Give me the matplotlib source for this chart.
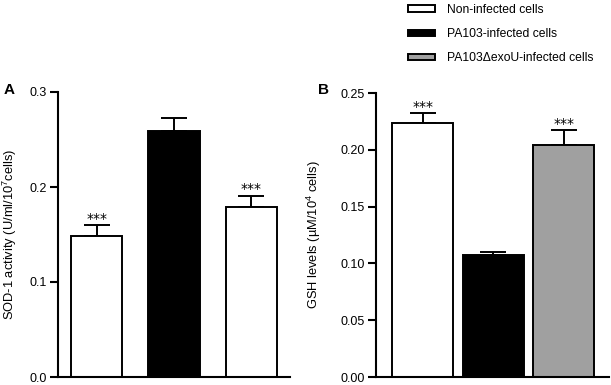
import matplotlib
matplotlib.use("Agg")
import matplotlib.pyplot as plt
from matplotlib.ticker import FormatStrFormatter

plt.rcParams["font.family"] = ["Liberation Sans", "DejaVu Sans"]
plt.rcParams["mathtext.default"] = "regular"

groups = ["Non-infected cells", "PA103-infected cells", "PA103\u0394exoU-infected cells"]

# panel A: SOD-1 activity
sod_mean = [0.148, 0.259, 0.179]
sod_err = [0.012, 0.014, 0.012]
sod_stars = ["***", "", "***"]
sod_colors = ["white", "black", "white"]

# panel B: GSH levels
gsh_mean = [0.224, 0.107, 0.204]
gsh_err = [0.008, 0.003, 0.013]
gsh_stars = ["***", "", "***"]
gsh_colors = ["white", "black", "#a0a0a0"]

W, H = 611, 385
fig = plt.figure(figsize=(W / 100, H / 100), dpi=100)


def px_axes(x0, x1, y_top, y_bot):
    return fig.add_axes([x0 / W, 1 - y_bot / H, (x1 - x0) / W, (y_bot - y_top) / H])


def draw_panel(ax, means, errs, stars, colors, width, xlim, ylim, yticks, fmt, ylabel):
    x = list(range(len(means)))
    bars = ax.bar(x, means, width=width, color=colors, edgecolor="black", linewidth=1.4, zorder=2)
    ax.errorbar(x, means, yerr=[[0] * len(errs), errs], fmt="none", ecolor="black",
                elinewidth=1.4, capsize=9.5, capthick=1.4, zorder=1)
    for xi, m, e, s in zip(x, means, errs, stars):
        if s:
            ax.annotate(s, (xi, m + e), xytext=(0, 1.5), textcoords="offset points",
                        ha="center", va="baseline", fontsize=10, family="DejaVu Sans")
    ax.set_xlim(*xlim)
    ax.set_ylim(*ylim)
    ax.set_yticks(yticks)
    ax.yaxis.set_major_formatter(FormatStrFormatter(fmt))
    ax.set_xticks([])
    for sp in ["top", "right"]:
        ax.spines[sp].set_visible(False)
    for sp in ["left", "bottom"]:
        ax.spines[sp].set_linewidth(1.5)
    ax.tick_params(axis="y", direction="out", length=6, width=1.5, labelsize=9, pad=2)
    ax.set_ylabel(ylabel, fontsize=9.3)
    return bars


axA = px_axes(58, 290, 92, 377)
barsA = draw_panel(axA, sod_mean, sod_err, sod_stars, sod_colors, 0.66, (-0.5, 2.5),
                   (0, 0.3), [0.0, 0.1, 0.2, 0.3], "%.1f",
                   "SOD-1 activity (U/ml/10$^7$cells)")
axA.yaxis.set_label_coords(-0.17, 0.5)

axB = px_axes(376, 609, 93, 377)
barsB = draw_panel(axB, gsh_mean, gsh_err, gsh_stars, gsh_colors, 0.86, (-0.66, 2.64),
                   (0, 0.25), [0.0, 0.05, 0.10, 0.15, 0.20, 0.25], "%.2f",
                   "GSH levels (\u00b5M/10$^4$ cells)")
axB.yaxis.set_label_coords(-0.228, 0.5)

fig.text(4 / W, 1 - 90 / H, "A", fontsize=11, fontweight="bold", ha="left", va="center")
fig.text(318 / W, 1 - 90 / H, "B", fontsize=11, fontweight="bold", ha="left", va="center")

fig.legend(barsB, groups, loc="upper left", bbox_to_anchor=(408 / W, 1 - 4 / H),
           frameon=False, fontsize=8.7, handlelength=2.2, handleheight=0.45,
           handletextpad=1.0, labelspacing=1.0, borderpad=0, borderaxespad=0)

fig.savefig("out.png", dpi=100)
